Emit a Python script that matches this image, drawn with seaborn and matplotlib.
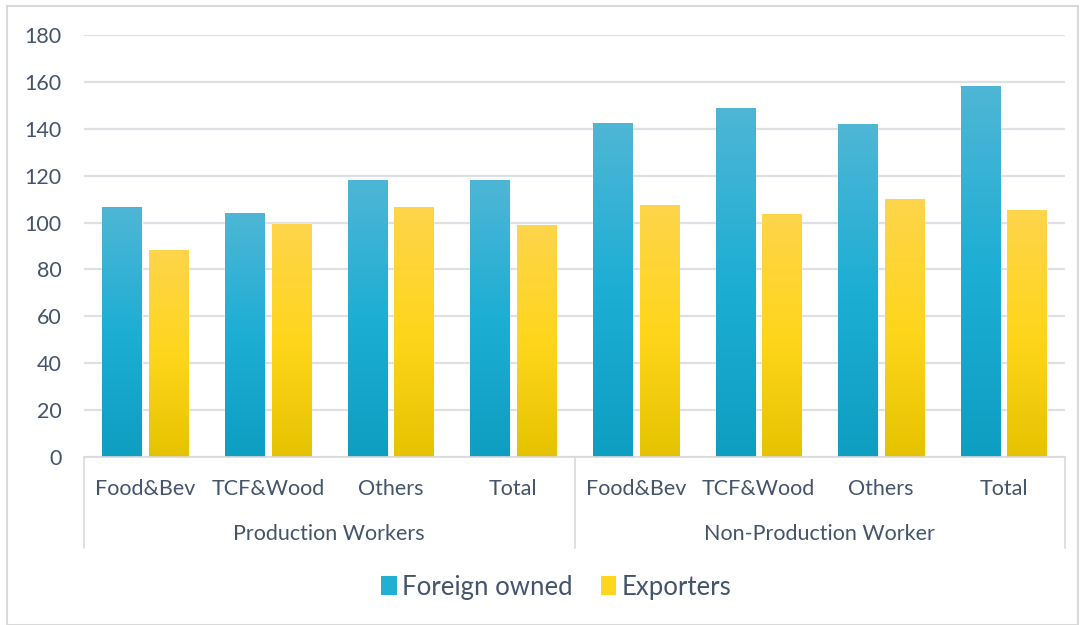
import numpy as np
import pandas as pd
import matplotlib
matplotlib.use("Agg")
import matplotlib.pyplot as plt
import seaborn as sns
from matplotlib.colors import LinearSegmentedColormap
from matplotlib.patches import Rectangle, Patch
import matplotlib.transforms as mtransforms

# ---- data ----
groups = ["Production Workers", "Non-Production Worker"]
subcats = ["Food&Bev", "TCF&Wood", "Others", "Total"]
series = ["Foreign owned", "Exporters"]
foreign_owned = [106.6, 104.1, 118.2, 118.2, 142.5, 148.9, 142.1, 158.3]
exporters = [88.3, 99.4, 106.6, 99.0, 107.5, 103.7, 110.1, 105.4]
y_ticks = [0, 20, 40, 60, 80, 100, 120, 140, 160, 180]

keys = [f"{g}|{s}" for g in groups for s in subcats]
df = pd.DataFrame({
    "key": keys * 2,
    "value": foreign_owned + exporters,
    "series": [series[0]] * len(keys) + [series[1]] * len(keys),
})

sns.set_theme(style="white")
plt.rcParams["font.family"] = ["Lato", "DejaVu Sans"]
text_color = "#44546A"

fig = plt.figure(figsize=(10.84, 6.25), dpi=100)
ax = fig.add_axes([84 / 1084, (625 - 457) / 625, (1065 - 84) / 1084, 422 / 625])

blue_mid = "#22AFD4"
yellow_mid = "#FFD61E"
sns.barplot(data=df, x="key", y="value", hue="series", order=keys,
            hue_order=series, palette=[blue_mid, yellow_mid],
            width=0.76, gap=0.16, ax=ax, legend=False, saturation=1)

ax.set_ylim(0, 180)
ax.set_xlim(-0.5, len(keys) - 0.5)
ax.set_yticks(y_ticks)
ax.set_yticklabels([str(v) for v in y_ticks])
ax.yaxis.grid(True, color="#DDE1E6", linewidth=1.6)
ax.set_axisbelow(True)
for s in ["top", "right", "left"]:
    ax.spines[s].set_visible(False)
ax.spines["bottom"].set_color("#D9D9D9")
ax.spines["bottom"].set_linewidth(1.2)
ax.tick_params(axis="y", length=0, labelsize=15.5, labelcolor=text_color, pad=16)
ax.tick_params(axis="x", length=0, labelsize=15.5, labelcolor=text_color, pad=16)
ax.set_xticks(range(len(keys)))
ax.set_xticklabels(subcats * len(groups))
ax.set_xlabel("")
ax.set_ylabel("")

# gradient fills
blue_cmap = LinearSegmentedColormap.from_list("b", ["#0E9EC2", "#1DAED4", "#4FB6D6"])
yellow_cmap = LinearSegmentedColormap.from_list("y", ["#E6C300", "#FFD61C", "#FED44C"])
grad = np.linspace(0, 1, 256).reshape(-1, 1)
n = len(keys)
for i, p in enumerate(ax.patches[: 2 * n]):
    cmap = blue_cmap if i < n else yellow_cmap
    x0, y0 = p.get_x(), p.get_y()
    w, h = p.get_width(), p.get_height()
    im = ax.imshow(grad, cmap=cmap, aspect="auto", origin="lower",
                   extent=[x0, x0 + w, y0, y0 + h], zorder=p.get_zorder() + 0.1)
    im.set_clip_path(p)
ax.set_xlim(-0.5, len(keys) - 0.5)
ax.set_ylim(0, 180)

# group separators and labels
trans = mtransforms.blended_transform_factory(ax.transData, ax.transAxes)
sep_depth = -(548 - 457) / 422
for xs in [-0.5, 3.5, 7.5]:
    ax.plot([xs, xs], [0, sep_depth], transform=trans, color="#D9D9D9",
            linewidth=1.2, clip_on=False)
for gi, g in enumerate(groups):
    xc = gi * len(subcats) + (len(subcats) - 1) / 2
    ax.text(xc, -(534 - 457) / 422, g, transform=trans, ha="center", va="center",
            fontsize=15.5, color=text_color)

# legend
handles = [Patch(facecolor=blue_mid, edgecolor="none"),
           Patch(facecolor=yellow_mid, edgecolor="none")]
leg = fig.legend(handles, series, loc="center", bbox_to_anchor=(556 / 1084, 1 - 587 / 625),
                 ncol=2, frameon=False, fontsize=18.5, handlelength=0.6,
                 handleheight=0.8, handletextpad=0.2, columnspacing=1.1)
for t in leg.get_texts():
    t.set_color(text_color)

# figure border
fig.patches.append(Rectangle((7 / 1084, 0), (1078 - 7) / 1084, (625 - 6) / 625,
                             transform=fig.transFigure, fill=False,
                             edgecolor="#D9D9D9", linewidth=1.5))

fig.savefig("out.png", dpi=100)
